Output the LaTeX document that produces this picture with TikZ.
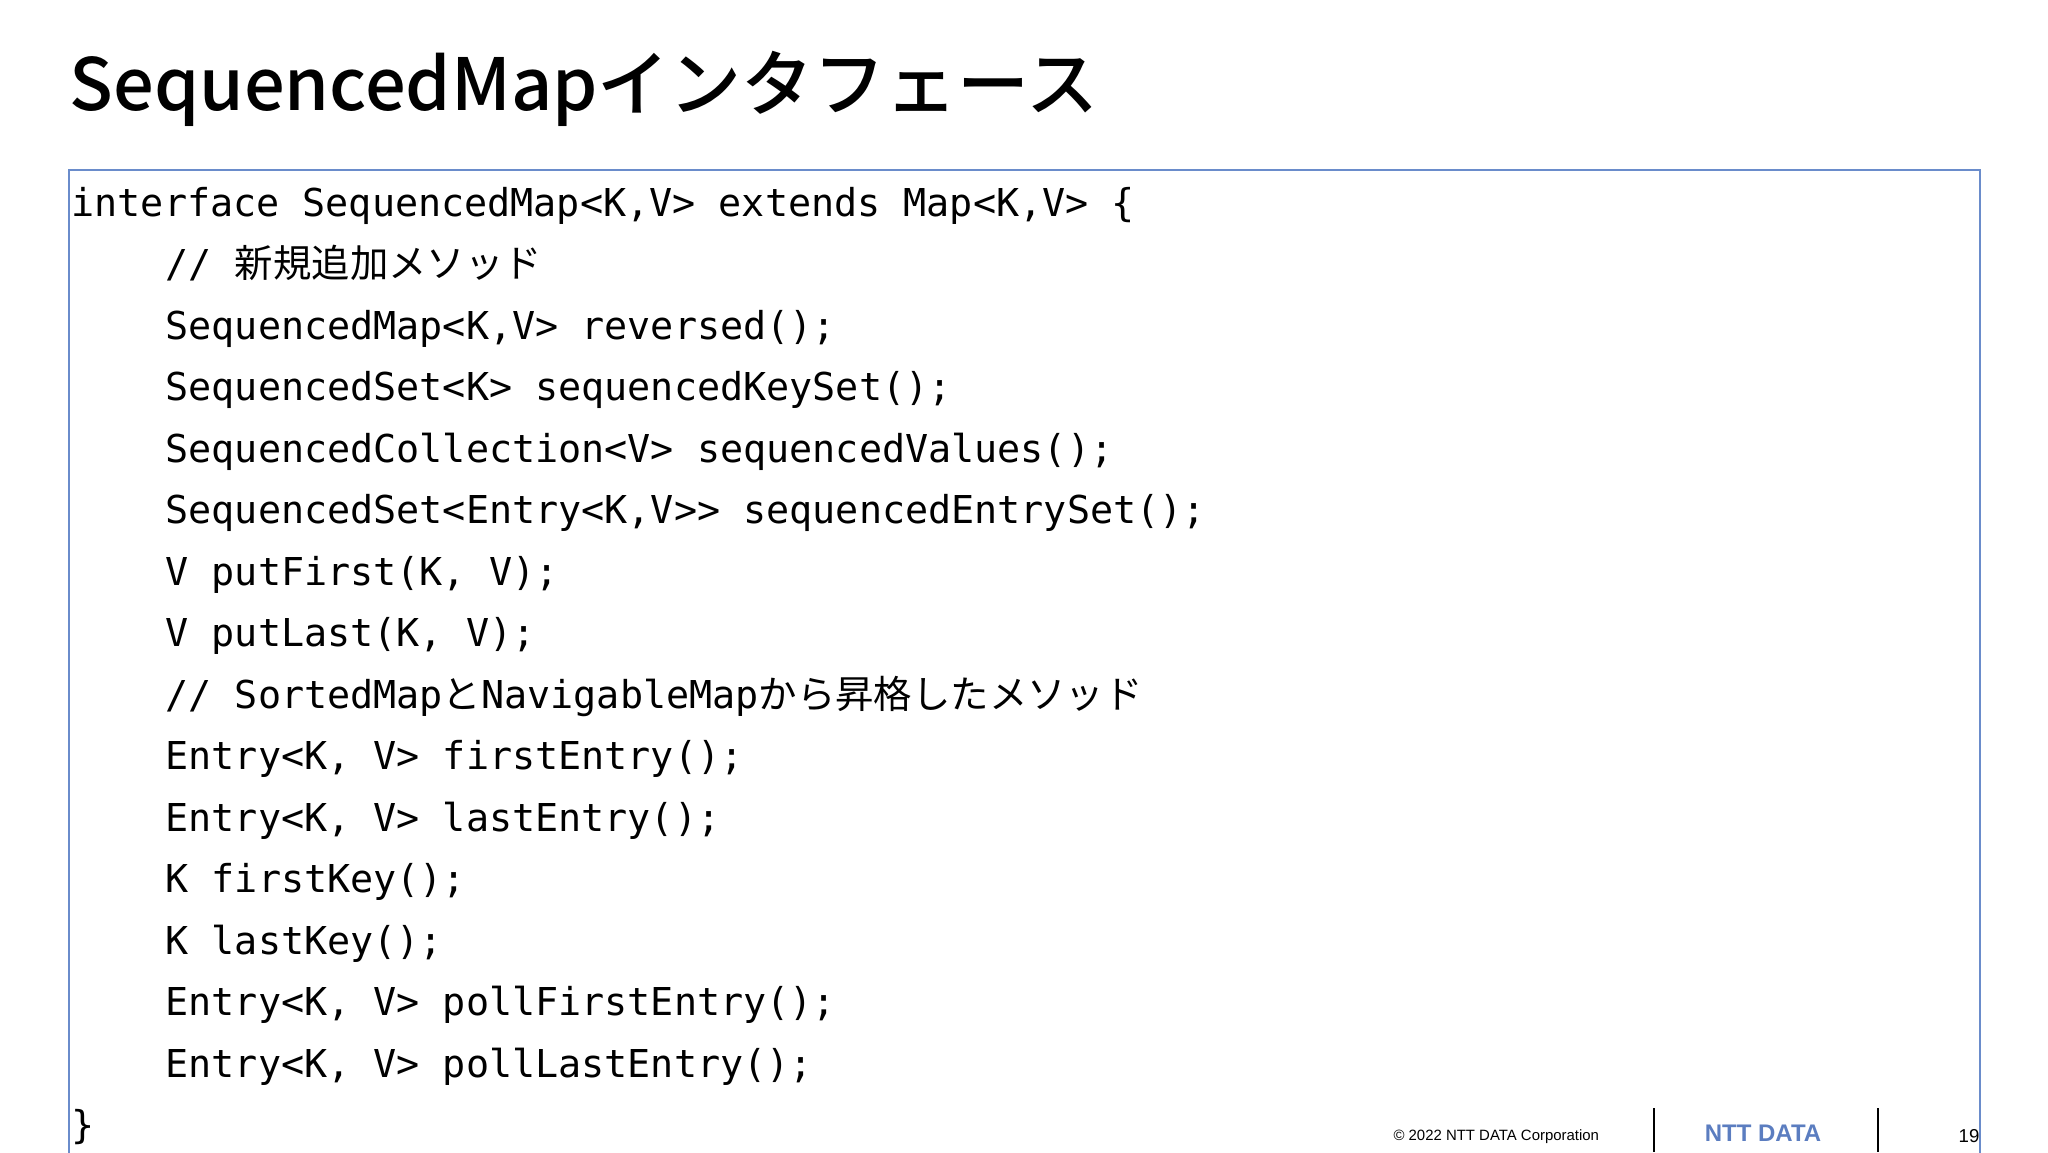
\documentclass[tikz,border=0pt]{standalone}
\usepackage{fontspec}
\setmonofont{DejaVu Sans Mono}
\newfontfamily\cjk{Noto Sans CJK JP}
\newfontfamily\titlef{Noto Sans CJK JP Medium}
\setsansfont{Liberation Sans}
\definecolor{bord}{HTML}{6A8CCB}
\definecolor{logo}{HTML}{5B7DC0}
\begin{document}
\begin{tikzpicture}[x=0.375pt,y=-0.375pt,
  code/.style={anchor=base west,inner sep=0,font=\ttfamily\fontsize{14.4}{16}\selectfont},
  foot/.style={anchor=base west,inner sep=0,font=\sffamily\fontsize{5.6}{7}\selectfont}]
\useasboundingbox (0,0) rectangle (2048,1152);
\node[anchor=base west,inner sep=0,font=\titlef\fontsize{27}{32}\selectfont] (title) at (69,110) {SequencedMapインタフェース};
\draw[bord,line width=1pt] (69,170) rectangle (1980,1162);
\node[code] (l0) at (71,216) {interface SequencedMap<K,V> extends Map<K,V> \{};
\node[code] (l1) at (165,277.5) {// {\cjk 新規追加メソッド}};
\node[code] (l2) at (165,339) {SequencedMap<K,V> reversed();};
\node[code] (l3) at (165,400.5) {SequencedSet<K> sequencedKeySet();};
\node[code] (l4) at (165,462) {SequencedCollection<V> sequencedValues();};
\node[code] (l5) at (165,523.5) {SequencedSet<Entry<K,V>{}> sequencedEntrySet();};
\node[code] (l6) at (165,585) {V putFirst(K, V);};
\node[code] (l7) at (165,646.5) {V putLast(K, V);};
\node[code] (l8) at (165,708) {// SortedMap{\cjk と}NavigableMap{\cjk から昇格したメソッド}};
\node[code] (l9) at (165,769.5) {Entry<K, V> firstEntry();};
\node[code] (l10) at (165,831) {Entry<K, V> lastEntry();};
\node[code] (l11) at (165,892.5) {K firstKey();};
\node[code] (l12) at (165,954) {K lastKey();};
\node[code] (l13) at (165,1015.5) {Entry<K, V> pollFirstEntry();};
\node[code] (l14) at (165,1077) {Entry<K, V> pollLastEntry();};
\node[code] (l15) at (71,1138) {\}};
\node[foot] (copy) at (1393,1140) {© 2022 NTT DATA Corporation};
\draw[line width=0.6pt] (1654,1108) -- (1654,1152);
\draw[line width=0.6pt] (1878,1108) -- (1878,1152);
\node[anchor=base,inner sep=0,text=logo,font=\sffamily\bfseries\fontsize{9}{10}\selectfont] (logo) at (1763,1141) {NTT DATA};
\node[foot,anchor=base east,font=\sffamily\fontsize{7}{8}\selectfont] (pg) at (1980,1142) {19};
\end{tikzpicture}
\end{document}
